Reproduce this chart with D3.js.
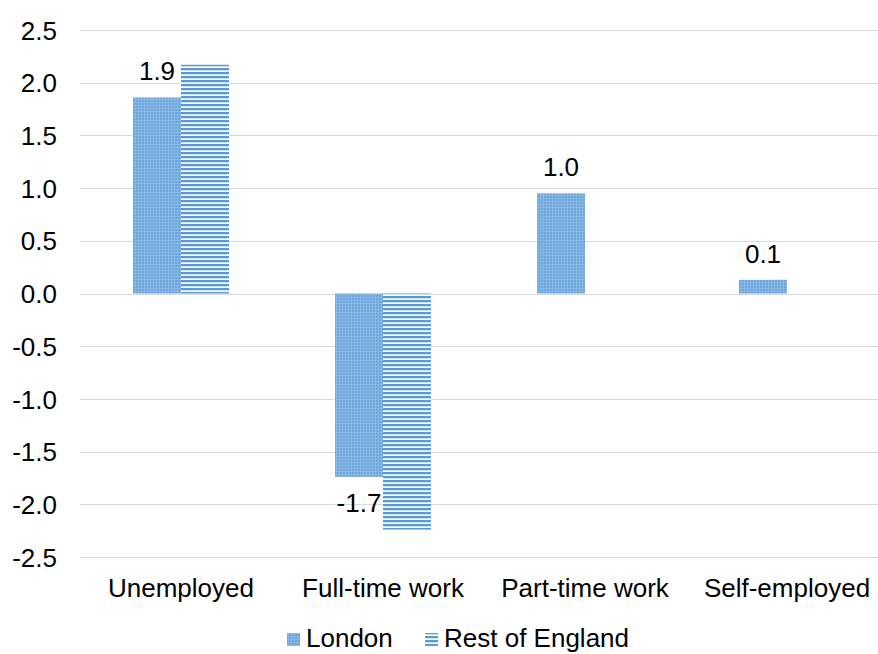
<!DOCTYPE html>
<html><head><meta charset="utf-8">
<script src="https://cdn.jsdelivr.net/npm/d3@7"></script>
<style>body{margin:0;background:#fff}svg{display:block}text{font-family:"Liberation Sans",Arial,sans-serif;fill:#000}</style>
</head><body>
<svg id="c" width="878" height="654"></svg>
<script>
const categories = ["Unemployed","Full-time work","Part-time work","Self-employed"];
const series = ["London","Rest of England"];
const london = [1.86, -1.74, 0.95, 0.13];
const restOfEngland = [2.17, -2.24, 0, 0];
const londonLabels = ["1.9","-1.7","1.0","0.1"];
const yTicks = [2.5,2.0,1.5,1.0,0.5,0.0,-0.5,-1.0,-1.5,-2.0,-2.5];

const svg = d3.select("#c");
const defs = svg.append("defs");
// London grid pattern
const p1 = defs.append("pattern").attr("id","pGrid").attr("patternUnits","userSpaceOnUse").attr("width",3).attr("height",3);
p1.append("rect").attr("width",3).attr("height",3).attr("fill","#6ca5db");
p1.append("rect").attr("x",0).attr("y",0).attr("width",3).attr("height",1).attr("fill","#8ab8e5");
p1.append("rect").attr("x",0).attr("y",0).attr("width",1).attr("height",3).attr("fill","#8ab8e5");
// Rest stripes
const p2 = defs.append("pattern").attr("id","pStripe").attr("patternUnits","userSpaceOnUse").attr("width",4).attr("height",4);
p2.append("rect").attr("width",4).attr("height",4).attr("fill","#ffffff");
p2.append("rect").attr("y",0).attr("width",4).attr("height",2.3).attr("fill","#5b9bd5");

const fills = ["url(#pGrid)","url(#pStripe)"];
const fmt = v => d3.format(".1f")(v).replace("\u2212","-");

const x = d3.scaleBand().domain(categories).range([80,888]).paddingInner(0).paddingOuter(0);
const y = d3.scaleLinear().domain([-2.5,2.5]).range([557,30]);
const barW = 48;
const xs = d3.scaleBand().domain(series).range([0, barW*2]);

// gridlines
svg.append("g").selectAll("line").data(yTicks).join("line")
  .attr("x1",80).attr("x2",888)
  .attr("y1",d=>Math.round(y(d))+0.5).attr("y2",d=>Math.round(y(d))+0.5)
  .attr("stroke","#d9d9d9").attr("stroke-width",1);

// y axis labels
const yAxis = d3.axisLeft(y).tickValues(yTicks).tickFormat(fmt).tickSize(0).tickPadding(0);
const ga = svg.append("g").attr("transform","translate(57,0)").call(yAxis);
ga.select(".domain").remove();
ga.selectAll("text").attr("font-size",26).attr("font-family","Liberation Sans, Arial, sans-serif").attr("fill","#000").attr("dy","0.35em");

// bars
const data = categories.map((c,i)=>({c, vals:[london[i], restOfEngland[i]]}));
const g = svg.append("g");
data.forEach(d=>{
  const cx = x(d.c) + x.bandwidth()/2 - barW;
  d.vals.forEach((v,j)=>{
    if (v===0) return;
    g.append("rect")
      .attr("x", cx + xs(series[j]))
      .attr("width", barW)
      .attr("y", y(Math.max(0,v)))
      .attr("height", Math.abs(y(v)-y(0)))
      .attr("fill", fills[j]);
  });
});

// data labels (London)
categories.forEach((c,i)=>{
  const v = london[i];
  const cx = x(c) + x.bandwidth()/2 - barW + xs("London") + barW/2;
  svg.append("text").attr("x",cx)
    .attr("y", v>=0 ? y(v)-17 : y(v)+35)
    .attr("text-anchor","middle").attr("font-size",26).text(londonLabels[i]);
});

// x axis labels
const xAxis = d3.axisBottom(x).tickSize(0).tickPadding(0);
const gx = svg.append("g").attr("transform","translate(0,597)").call(xAxis);
gx.select(".domain").remove();
gx.selectAll("text").attr("font-size",26).attr("font-family","Liberation Sans, Arial, sans-serif").attr("fill","#000").attr("dy","0");

// legend
const legend = svg.append("g");
const legX = [287, 425];
series.forEach((s,j)=>{
  legend.append("rect").attr("x",legX[j]).attr("y",633).attr("width",13).attr("height",13).attr("fill",fills[j]);
  legend.append("text").attr("x",legX[j]+19).attr("y",647).attr("font-size",26).text(s);
});
</script>
</body></html>
